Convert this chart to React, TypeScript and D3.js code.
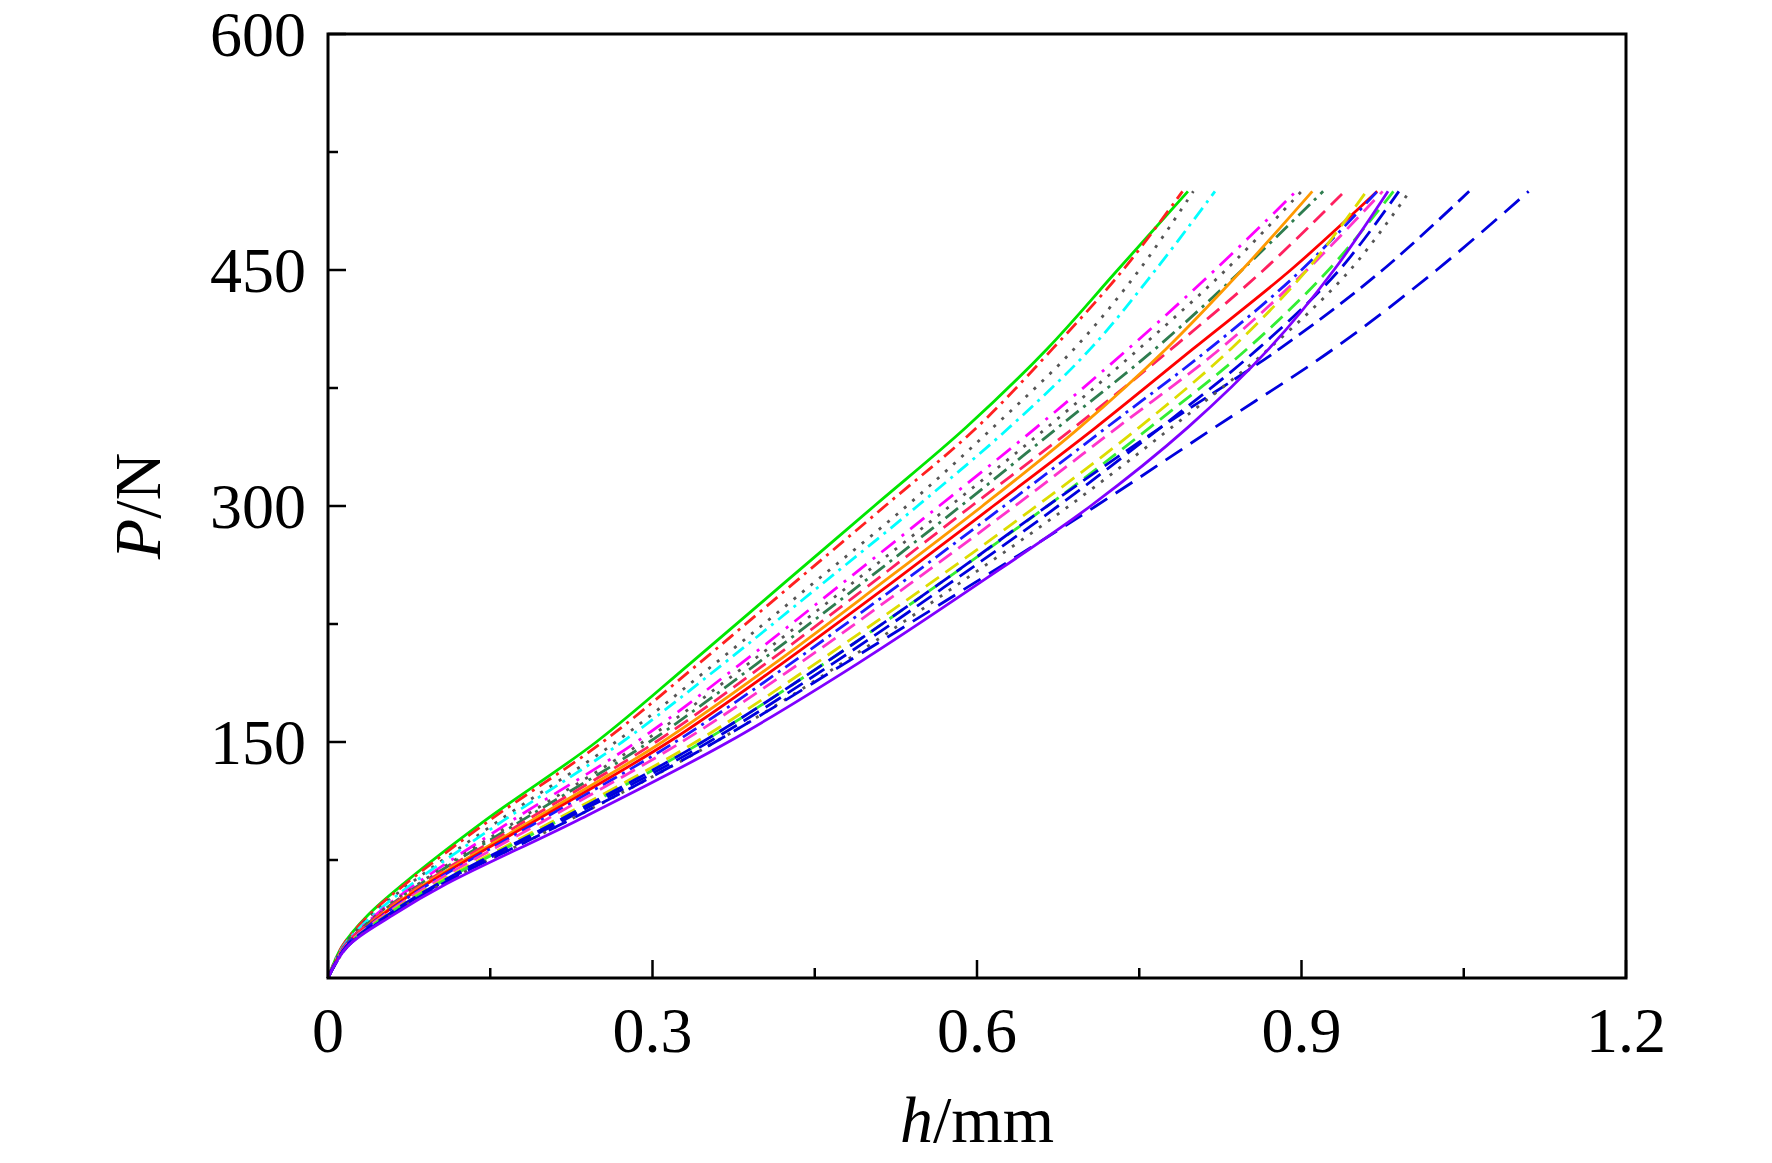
import * as d3 from 'd3';

// load levels (N) at which the displacement of every curve was read
const loads = [0, 20, 40, 60, 100, 150, 200, 250, 300, 350, 400, 450, 500];

type Curve = { color: string; dash: string; h: number[] };

// displacement h (mm) of each curve at the load levels above
const curves: Curve[] = [
  { color: '#00e600', dash: '', h: [0, 0.013, 0.037, 0.07, 0.145, 0.248, 0.335, 0.42, 0.505, 0.59, 0.665, 0.73, 0.795] },
  { color: '#ff2020', dash: '14 6 3 6', h: [0, 0.013, 0.038, 0.072, 0.149, 0.254, 0.343, 0.429, 0.515, 0.6, 0.67, 0.735, 0.79] },
  { color: '#555555', dash: '3 8', h: [0, 0.014, 0.04, 0.076, 0.158, 0.266, 0.358, 0.447, 0.535, 0.615, 0.69, 0.75, 0.8] },
  { color: '#00ffff', dash: '14 6 3 6', h: [0, 0.014, 0.042, 0.078, 0.162, 0.272, 0.366, 0.456, 0.545, 0.63, 0.705, 0.765, 0.82] },
  { color: '#ff00ff', dash: '18 8 3 8', h: [0, 0.015, 0.044, 0.082, 0.17, 0.285, 0.382, 0.474, 0.565, 0.655, 0.74, 0.82, 0.895] },
  { color: '#555555', dash: '3 8', h: [0, 0.015, 0.045, 0.084, 0.175, 0.291, 0.389, 0.483, 0.575, 0.665, 0.75, 0.83, 0.9] },
  { color: '#2e7d4f', dash: '16 6 3 6', h: [0, 0.015, 0.046, 0.086, 0.179, 0.297, 0.397, 0.492, 0.585, 0.675, 0.765, 0.845, 0.92] },
  { color: '#ff2060', dash: '16 8', h: [0, 0.015, 0.047, 0.088, 0.183, 0.303, 0.405, 0.501, 0.595, 0.69, 0.78, 0.865, 0.94] },
  { color: '#ff9900', dash: '', h: [0, 0.016, 0.049, 0.09, 0.188, 0.309, 0.413, 0.51, 0.605, 0.695, 0.775, 0.845, 0.91] },
  { color: '#ff0000', dash: '', h: [0, 0.016, 0.05, 0.092, 0.192, 0.315, 0.42, 0.519, 0.615, 0.71, 0.8, 0.89, 0.97] },
  { color: '#1a1aff', dash: '16 6 3 6', h: [0, 0.016, 0.051, 0.094, 0.196, 0.321, 0.428, 0.528, 0.625, 0.72, 0.815, 0.9, 0.97] },
  { color: '#ff33cc', dash: '16 8', h: [0, 0.016, 0.052, 0.096, 0.2, 0.327, 0.436, 0.537, 0.635, 0.73, 0.825, 0.905, 0.975] },
  { color: '#dddd00', dash: '16 8', h: [0, 0.017, 0.054, 0.1, 0.209, 0.34, 0.451, 0.555, 0.655, 0.75, 0.835, 0.905, 0.96] },
  { color: '#33ee33', dash: '16 8', h: [0, 0.017, 0.055, 0.102, 0.213, 0.346, 0.459, 0.564, 0.665, 0.76, 0.85, 0.925, 0.985] },
  { color: '#0000dd', dash: '18 8', h: [0, 0.017, 0.055, 0.102, 0.213, 0.346, 0.459, 0.564, 0.665, 0.77, 0.88, 0.975, 1.055] },
  { color: '#0000dd', dash: '18 8', h: [0, 0.017, 0.057, 0.104, 0.217, 0.352, 0.467, 0.573, 0.675, 0.77, 0.86, 0.935, 0.99] },
  { color: '#555555', dash: '3 8', h: [0, 0.018, 0.058, 0.106, 0.222, 0.358, 0.475, 0.582, 0.685, 0.78, 0.87, 0.945, 1.0] },
  { color: '#0000dd', dash: '20 10', h: [0, 0.018, 0.058, 0.106, 0.222, 0.358, 0.478, 0.595, 0.71, 0.82, 0.93, 1.025, 1.11] },
  { color: '#8000ff', dash: '', h: [0, 0.018, 0.06, 0.11, 0.23, 0.37, 0.49, 0.6, 0.705, 0.795, 0.87, 0.93, 0.98] },
];

const xTicks = [0, 0.3, 0.6, 0.9, 1.2];
const xTickLabels = ['0', '0.3', '0.6', '0.9', '1.2'];
const yTicks = [150, 300, 450, 600];

const W = 1772;
const H = 1163;
const m = { left: 328, right: 1626, top: 34, bottom: 978 };
const font = '"Liberation Serif", "Times New Roman", serif';

export default function App() {
  const x = d3.scaleLinear().domain([0, 1.2]).range([m.left, m.right]);
  const y = d3.scaleLinear().domain([0, 600]).range([m.bottom, m.top]);
  const line = d3
    .line<[number, number]>()
    .x((d) => x(d[0]))
    .y((d) => y(d[1]))
    .curve(d3.curveCatmullRom.alpha(0.5));

  const xMinor = d3.range(0.15, 1.2, 0.3);
  const yMinor = d3.range(75, 600, 150);

  return (
    <svg width={W} height={H} style={{ position: 'absolute', left: 0, top: 0, background: '#fff' }}>
      {curves.map((c, i) => (
        <path
          key={i}
          d={line(c.h.map((h, j) => [h, loads[j]] as [number, number])) || ''}
          fill="none"
          stroke={c.color}
          strokeWidth={2.8}
          strokeDasharray={c.dash}
        />
      ))}
      <rect x={m.left} y={m.top} width={m.right - m.left} height={m.bottom - m.top} fill="none" stroke="#000" strokeWidth={3} />
      {xTicks.map((t) => (
        <line key={'xt' + t} x1={x(t)} x2={x(t)} y1={m.bottom} y2={m.bottom - 18} stroke="#000" strokeWidth={2.5} />
      ))}
      {xMinor.map((t) => (
        <line key={'xm' + t} x1={x(t)} x2={x(t)} y1={m.bottom} y2={m.bottom - 10} stroke="#000" strokeWidth={2.5} />
      ))}
      {yTicks.map((t) => (
        <line key={'yt' + t} x1={m.left} x2={m.left + 18} y1={y(t)} y2={y(t)} stroke="#000" strokeWidth={2.5} />
      ))}
      {yMinor.map((t) => (
        <line key={'ym' + t} x1={m.left} x2={m.left + 10} y1={y(t)} y2={y(t)} stroke="#000" strokeWidth={2.5} />
      ))}
      {xTicks.map((t, i) => (
        <text key={'xl' + t} x={x(t)} y={m.bottom + 74} textAnchor="middle" fontFamily={font} fontSize={64}>
          {xTickLabels[i]}
        </text>
      ))}
      {yTicks.map((t) => (
        <text key={'yl' + t} x={m.left - 22} y={y(t) + 22} textAnchor="end" fontFamily={font} fontSize={64}>
          {t}
        </text>
      ))}
      <text x={(m.left + m.right) / 2} y={1142} textAnchor="middle" fontFamily={font} fontSize={66}>
        <tspan fontStyle="italic">h</tspan>/mm
      </text>
      <text transform={`translate(160, ${(m.top + m.bottom) / 2}) rotate(-90)`} textAnchor="middle" fontFamily={font} fontSize={66}>
        <tspan fontStyle="italic">P</tspan>/N
      </text>
    </svg>
  );
}
